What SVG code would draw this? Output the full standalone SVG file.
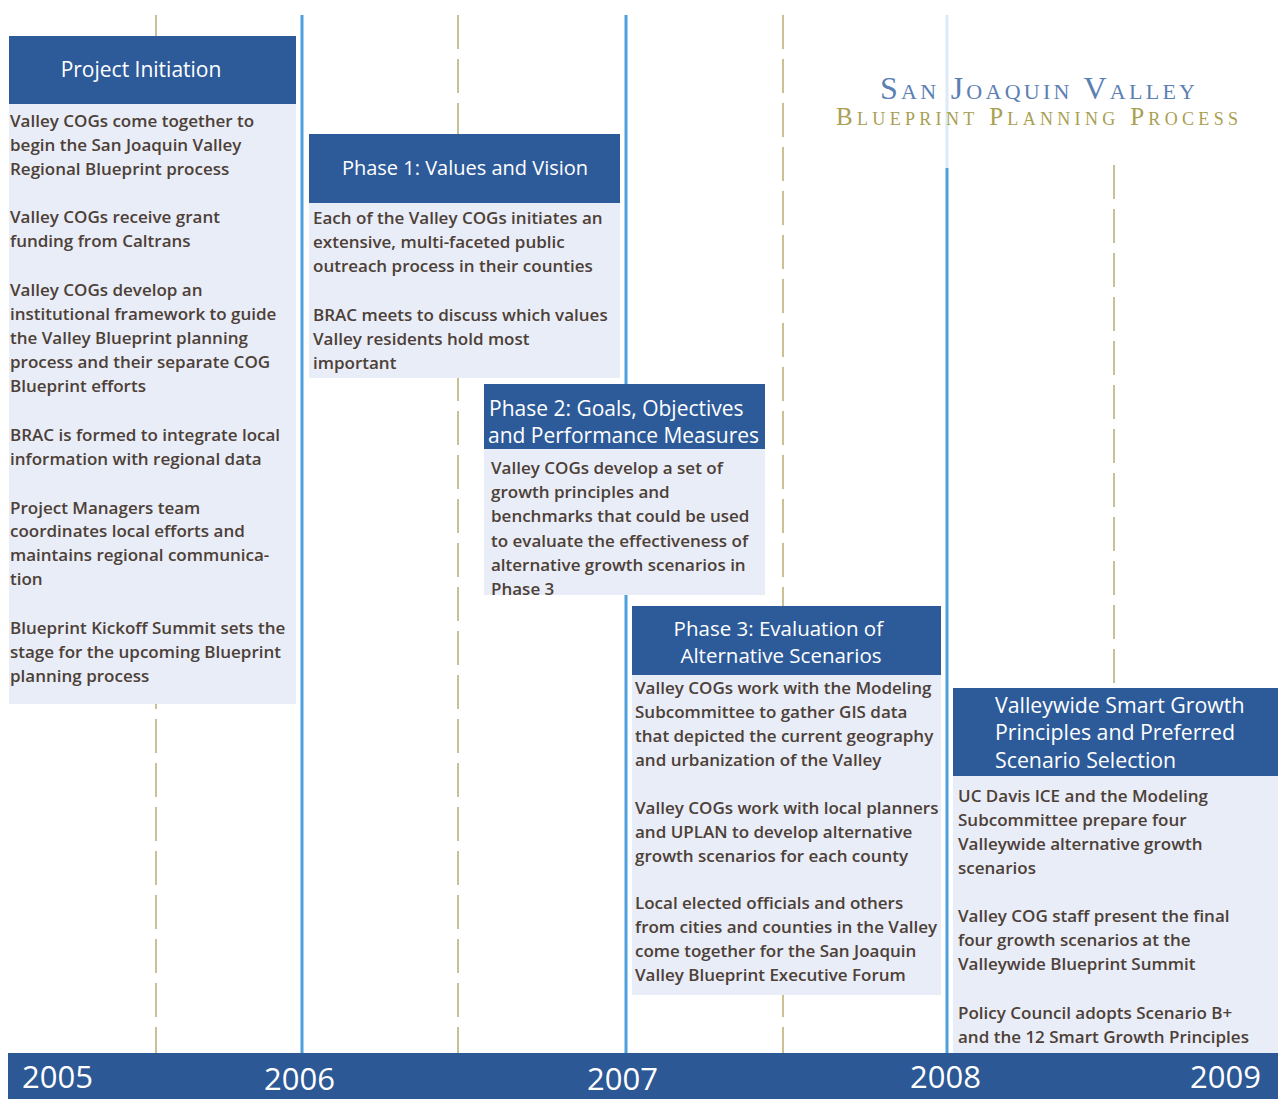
<svg xmlns="http://www.w3.org/2000/svg" width="1278" height="1099" viewBox="0 0 1278 1099">
<style>
.hd{fill:#2d5b9a}
.bd{fill:#e9edf7}
.ht{fill:#ffffff;font-family:"Open Sans","Noto Sans",sans-serif;font-size:21px}
.bt{fill:#4c4037;font-family:"Open Sans","Noto Sans",sans-serif;font-size:17px;font-weight:600;letter-spacing:0px}
.yr{fill:#ffffff;font-family:"Open Sans","Noto Sans",sans-serif;font-size:31px}
.sol{stroke:#4f9fdc;stroke-width:3;fill:none}
.dsh{stroke:#cbbf94;stroke-width:2;stroke-dasharray:34 10;fill:none}
</style>
<rect width="1278" height="1099" fill="#ffffff"/>
<g id="gridlines">
<line class="dsh" x1="156" y1="15" x2="156" y2="1053"/>
<line class="dsh" x1="458" y1="15" x2="458" y2="1053"/>
<line class="dsh" x1="783" y1="15" x2="783" y2="1053"/>
<line class="dsh" x1="1114" y1="165" x2="1114" y2="1053"/>
<line class="sol" x1="302" y1="15" x2="302" y2="1053"/>
<line class="sol" x1="626" y1="15" x2="626" y2="1053"/>
<line x1="947" y1="15" x2="947" y2="168" stroke="#dbeaf6" stroke-width="3"/>
<line class="sol" x1="947" y1="168" x2="947" y2="1053"/>
</g>
<g id="title">
<text x="880" y="99" textLength="315" lengthAdjust="spacing" fill="#5b80b3" font-family="'Liberation Serif',serif" font-size="32" style="font-variant:small-caps">San Joaquin Valley</text>
<text x="836" y="125" textLength="402" lengthAdjust="spacing" fill="#a9a052" font-family="'Liberation Serif',serif" font-size="25" style="font-variant:small-caps">Blueprint Planning Process</text>
</g>
<g id="project-initiation">
<rect class="hd" x="9" y="36" width="287" height="68"/>
<rect class="bd" x="9" y="104" width="287" height="600"/>
<text class="ht" x="141" y="77" text-anchor="middle">Project Initiation</text>
<text class="bt" x="10">
<tspan x="10" y="127">Valley COGs come together to</tspan>
<tspan x="10" y="151">begin the San Joaquin Valley</tspan>
<tspan x="10" y="175">Regional Blueprint process</tspan>
<tspan x="10" y="223">Valley COGs receive grant</tspan>
<tspan x="10" y="247">funding from Caltrans</tspan>
<tspan x="10" y="296">Valley COGs develop an</tspan>
<tspan x="10" y="320">institutional framework to guide</tspan>
<tspan x="10" y="344">the Valley Blueprint planning</tspan>
<tspan x="10" y="368">process and their separate COG</tspan>
<tspan x="10" y="392">Blueprint efforts</tspan>
<tspan x="10" y="441">BRAC is formed to integrate local</tspan>
<tspan x="10" y="465">information with regional data</tspan>
<tspan x="10" y="514">Project Managers team</tspan>
<tspan x="10" y="537">coordinates local efforts and</tspan>
<tspan x="10" y="561">maintains regional communica-</tspan>
<tspan x="10" y="585">tion</tspan>
<tspan x="10" y="634">Blueprint Kickoff Summit sets the</tspan>
<tspan x="10" y="658">stage for the upcoming Blueprint</tspan>
<tspan x="10" y="682">planning process</tspan>
</text>
</g>
<g id="phase1">
<rect class="hd" x="309" y="134" width="311" height="69"/>
<rect class="bd" x="309" y="203" width="311" height="175"/>
<text class="ht" x="465" y="175" text-anchor="middle" style="font-size:20px">Phase 1: Values and Vision</text>
<text class="bt">
<tspan x="313" y="224">Each of the Valley COGs initiates an</tspan>
<tspan x="313" y="248">extensive, multi-faceted public</tspan>
<tspan x="313" y="272">outreach process in their counties</tspan>
<tspan x="313" y="321">BRAC meets to discuss which values</tspan>
<tspan x="313" y="345">Valley residents hold most</tspan>
<tspan x="313" y="369">important</tspan>
</text>
</g>
<g id="phase2">
<rect class="hd" x="484" y="384" width="281" height="65"/>
<rect class="bd" x="484" y="449" width="281" height="146"/>
<text class="ht">
<tspan x="489" y="416">Phase 2: Goals, Objectives</tspan>
<tspan x="488" y="443">and Performance Measures</tspan>
</text>
<text class="bt">
<tspan x="491" y="474">Valley COGs develop a set of</tspan>
<tspan x="491" y="498">growth principles and</tspan>
<tspan x="491" y="522">benchmarks that could be used</tspan>
<tspan x="491" y="547">to evaluate the effectiveness of</tspan>
<tspan x="491" y="571">alternative growth scenarios in</tspan>
<tspan x="491" y="595">Phase 3</tspan>
</text>
</g>
<g id="phase3">
<rect class="hd" x="632" y="606" width="309" height="69"/>
<rect class="bd" x="632" y="675" width="309" height="320"/>
<text class="ht" text-anchor="middle" style="font-size:20.5px">
<tspan x="781" y="636">Phase 3: Evaluation of</tspan>
<tspan x="781" y="663">Alternative Scenarios</tspan>
</text>
<text class="bt">
<tspan x="635" y="694">Valley COGs work with the Modeling</tspan>
<tspan x="635" y="718">Subcommittee to gather GIS data</tspan>
<tspan x="635" y="742">that depicted the current geography</tspan>
<tspan x="635" y="766">and urbanization of the Valley</tspan>
<tspan x="635" y="814">Valley COGs work with local planners</tspan>
<tspan x="635" y="838">and UPLAN to develop alternative</tspan>
<tspan x="635" y="862">growth scenarios for each county</tspan>
<tspan x="635" y="909">Local elected officials and others</tspan>
<tspan x="635" y="933">from cities and counties in the Valley</tspan>
<tspan x="635" y="957">come together for the San Joaquin</tspan>
<tspan x="635" y="981">Valley Blueprint Executive Forum</tspan>
</text>
</g>
<g id="valleywide">
<rect class="hd" x="953" y="688" width="325" height="88"/>
<rect class="bd" x="953" y="776" width="325" height="277"/>
<text class="ht" style="font-size:21.3px">
<tspan x="995" y="713">Valleywide Smart Growth</tspan>
<tspan x="995" y="740">Principles and Preferred</tspan>
<tspan x="995" y="768">Scenario Selection</tspan>
</text>
<text class="bt">
<tspan x="958" y="802">UC Davis ICE and the Modeling</tspan>
<tspan x="958" y="826">Subcommittee prepare four</tspan>
<tspan x="958" y="850">Valleywide alternative growth</tspan>
<tspan x="958" y="874">scenarios</tspan>
<tspan x="958" y="922">Valley COG staff present the final</tspan>
<tspan x="958" y="946">four growth scenarios at the</tspan>
<tspan x="958" y="970">Valleywide Blueprint Summit</tspan>
<tspan x="958" y="1019">Policy Council adopts Scenario B+</tspan>
<tspan x="958" y="1043">and the 12 Smart Growth Principles</tspan>
</text>
</g>
<g id="axis">
<rect x="8" y="1053" width="1270" height="46" fill="#2c5895"/>
<text class="yr" x="22" y="1088">2005</text>
<text class="yr" x="264" y="1090">2006</text>
<text class="yr" x="587" y="1090">2007</text>
<text class="yr" x="910" y="1088">2008</text>
<text class="yr" x="1190" y="1088">2009</text>
</g>
</svg>
